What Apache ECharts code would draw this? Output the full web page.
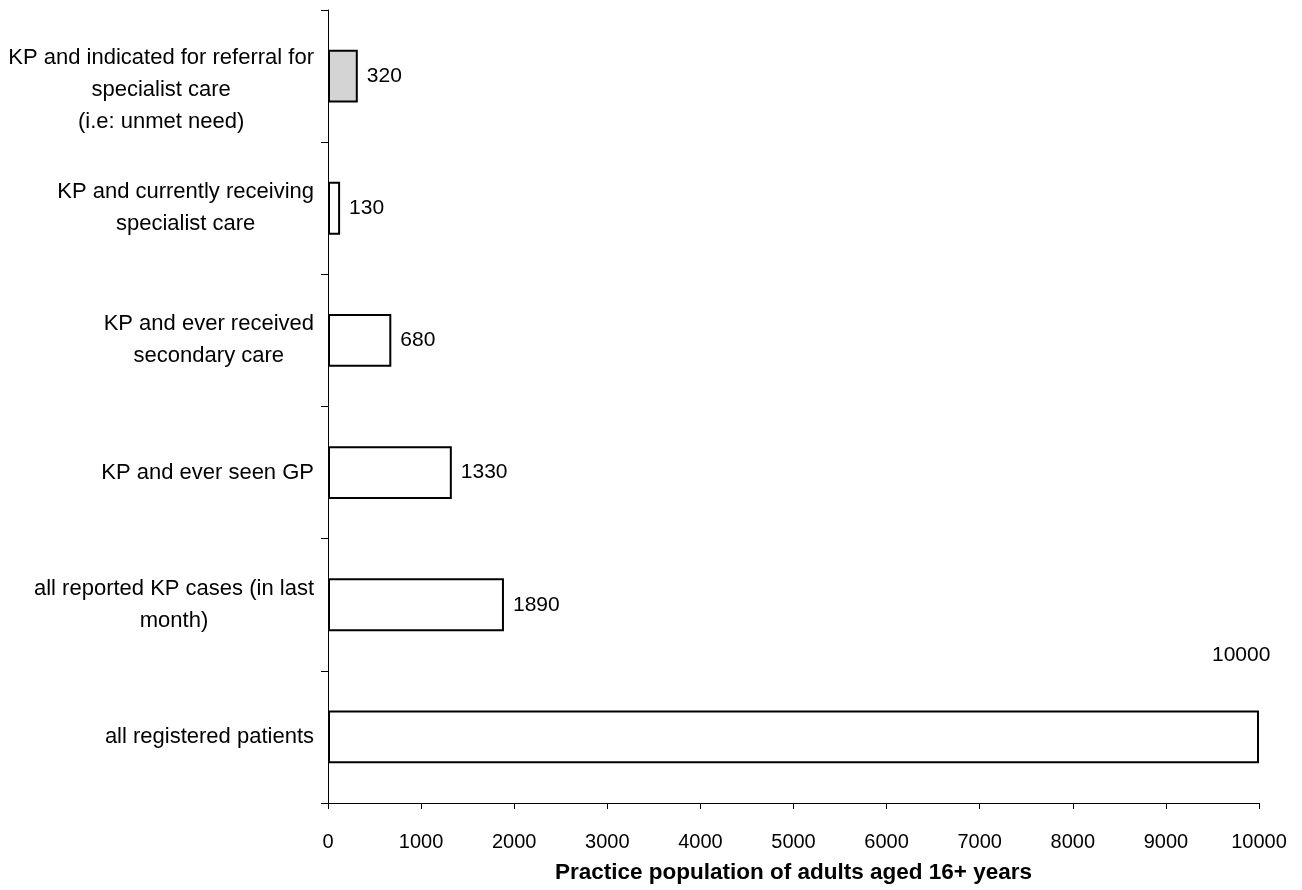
<!DOCTYPE html>
<html>
<head>
<meta charset="utf-8">
<script src="https://cdn.jsdelivr.net/npm/echarts@6/dist/echarts.min.js"></script>
<style>
html,body{margin:0;padding:0;background:#fff;}
#chart{width:1302px;height:890px;}
</style>
</head>
<body>
<div id="chart"></div>
<script>
// Categories listed bottom-to-top (category axis starts at the bottom)
const categories = [
  'all registered patients',
  'all reported KP cases (in last\nmonth)',
  'KP and ever seen GP',
  'KP and ever received\nsecondary care',
  'KP and currently receiving\nspecialist care',
  'KP and indicated for referral for\nspecialist care\n(i.e: unmet need)'
];
const values = [10000, 1890, 1330, 680, 130, 320];
const xTicks = {min: 0, max: 10000, interval: 1000};
const xTitle = 'Practice population of adults aged 16+ years';

const FONT = '"Liberation Sans", Arial, sans-serif';

const chart = echarts.init(document.getElementById('chart'));

const catData = categories.map((c, i) => {
  if (i === categories.length - 1) {
    return {value: c, textStyle: {padding: [28, 0, 0, 0]}};
  }
  return c;
});

const barData = values.map((v, i) => {
  const item = {value: v};
  if (i === categories.length - 1) {
    item.itemStyle = {color: '#d4d4d4'};
  }
  if (v === xTicks.max) {
    item.label = {position: [884, -66]};
  }
  return item;
});

chart.setOption({
  animation: false,
  backgroundColor: '#ffffff',
  grid: {left: 328, right: 43, top: 10, bottom: 87, containLabel: false},
  xAxis: {
    type: 'value',
    min: xTicks.min,
    max: xTicks.max,
    interval: xTicks.interval,
    name: xTitle,
    nameLocation: 'middle',
    nameGap: 58,
    nameTextStyle: {fontFamily: FONT, fontSize: 22.5, fontWeight: 'bold', color: '#000'},
    axisLine: {show: true, lineStyle: {color: '#000', width: 1}},
    axisTick: {show: true, inside: false, length: 6, lineStyle: {color: '#000'}},
    axisLabel: {
      fontFamily: FONT, fontSize: 20, color: '#000', margin: 29,
      formatter: function (v) { return String(v); }
    },
    splitLine: {show: false}
  },
  yAxis: {
    type: 'category',
    data: catData,
    boundaryGap: true,
    axisLine: {show: true, onZero: false, lineStyle: {color: '#000', width: 1}},
    axisTick: {show: true, inside: false, length: 7, lineStyle: {color: '#000'}},
    axisLabel: {
      margin: 14,
      fontFamily: FONT,
      fontSize: 22,
      color: '#000',
      lineHeight: 32,
      formatter: function (val) {
        return val.split('\n').map(l => '{c|' + l + '}').join('\n');
      },
      rich: {
        c: {align: 'center', fontFamily: FONT, fontSize: 22, color: '#000', lineHeight: 32}
      }
    },
    splitLine: {show: false}
  },
  series: [{
    type: 'bar',
    data: barData,
    barWidth: '40%',
    itemStyle: {color: '#ffffff', borderColor: '#000', borderWidth: 2},
    label: {
      show: true,
      position: 'right',
      distance: 9,
      fontFamily: FONT,
      fontSize: 21,
      color: '#000'
    }
  }]
});
</script>
</body>
</html>
